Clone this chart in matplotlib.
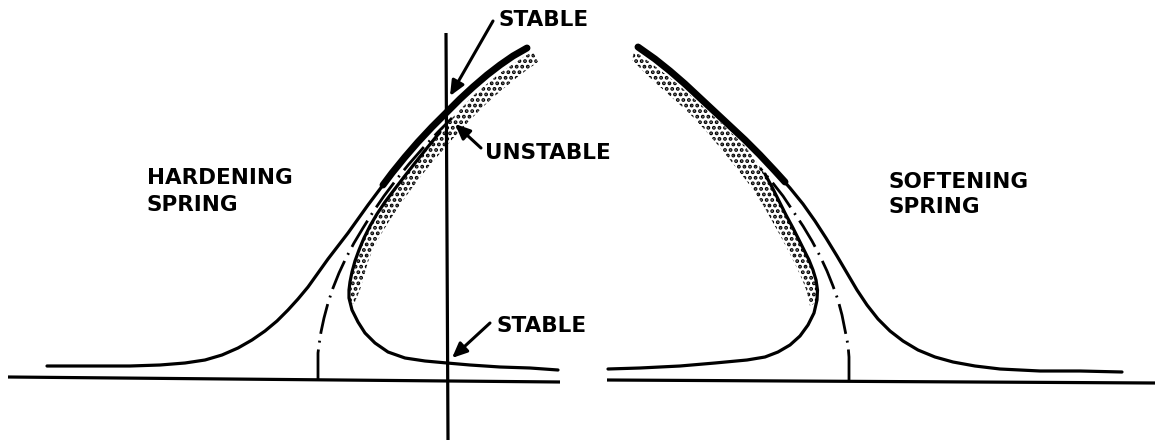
import matplotlib
matplotlib.use("Agg")
import matplotlib.pyplot as plt
from matplotlib.patches import Polygon
import numpy as np

# ---------------- data (pixel-like units) ----------------
# Left panel: hardening spring
base_left_x = [8, 560]
base_left_y = [377, 382]
vaxis_x = [446, 448]
vaxis_y = [33, 440]

hard_outer_x = [47, 90, 130, 160, 185, 205, 222, 238, 252, 265, 277, 288, 298, 308, 318, 328,
                338, 348, 358, 368, 380, 392, 405, 418, 432, 447, 460, 473, 487, 500, 513, 527]
hard_outer_y = [366, 366, 366, 365, 363, 360, 355, 348, 340, 331, 321, 310, 299, 287, 273, 259,
                246, 233, 219, 205, 189, 173, 157, 142, 127, 112, 99, 87, 75, 65, 56, 48]
hard_thick_x = [383, 392, 405, 418, 432, 447, 460, 473, 487, 500, 513, 527]
hard_thick_y = [185, 173, 157, 142, 127, 112, 99, 87, 75, 65, 56, 48]

hard_inner_x = [558, 530, 500, 470, 447, 425, 405, 388, 375, 365, 358, 352, 349, 349, 350, 352,
                355, 359, 364, 370, 377, 385, 394, 404, 415, 427, 440]
hard_inner_y = [370, 368, 367, 365, 363, 361, 358, 352, 343, 333, 322, 310, 298, 290, 282, 272,
                261, 250, 238, 226, 214, 202, 190, 177, 163, 148, 132]

hard_band_in_x = [350, 350, 352, 355, 359, 364, 370, 377, 385, 394, 404, 415, 427, 440, 452,
                  475, 500, 525, 533]
hard_band_in_y = [303, 285, 272, 261, 250, 238, 226, 214, 202, 190, 177, 163, 148, 132, 118,
                  94, 73, 56, 52]
hard_band_out_x = [354, 360, 364, 368, 373, 380, 388, 397, 407, 418, 430, 443, 456, 470, 486,
                   503, 520, 538]
hard_band_out_y = [304, 290, 276, 262, 249, 236, 223, 209, 195, 180, 165, 150, 135, 120, 104,
                   89, 75, 62]

hard_bb_x = [318, 318, 319, 321, 324, 328, 333, 339, 346, 354, 363, 373, 384, 396, 409, 423, 438, 452]
hard_bb_y = [380, 353, 345, 332, 318, 303, 288, 273, 258, 243, 228, 212, 196, 180, 164, 148, 132, 118]

# Right panel: softening spring
base_right_x = [607, 1155]
base_right_y = [380, 383]

soft_outer_x = [638, 655, 670, 685, 700, 715, 730, 745, 760, 775, 790, 803, 815, 826, 837, 847,
                857, 867, 878, 890, 903, 918, 935, 953, 975, 1000, 1040, 1080, 1122]
soft_outer_y = [47, 59, 71, 84, 98, 112, 126, 140, 155, 171, 188, 204, 221, 238, 256, 273,
                290, 305, 319, 331, 341, 350, 357, 362, 366, 369, 371, 371, 372]
soft_thick_x = [638, 655, 670, 685, 700, 715, 730, 745, 760, 775, 785]
soft_thick_y = [47, 59, 71, 84, 98, 112, 126, 140, 155, 171, 182]

soft_inner_x = [608, 640, 680, 715, 747, 765, 778, 790, 800, 808, 814, 817, 817.5, 816, 813,
                809, 804, 799, 793, 786, 779, 772, 765]
soft_inner_y = [369, 368, 366, 363, 360, 357, 352, 345, 336, 325, 313, 300, 290, 280, 270,
                260, 250, 240, 228, 215, 201, 187, 174]

soft_band_in_x = [817, 817.5, 816, 813, 809, 804, 799, 793, 786, 779, 772, 765, 745, 720, 700,
                  680, 660, 640, 634]
soft_band_in_y = [302, 290, 280, 270, 260, 250, 240, 228, 215, 201, 187, 174, 146, 122, 104,
                  86, 70, 55, 52]
soft_band_out_x = [810, 807, 802, 796, 789, 781, 772, 763, 752, 738, 722, 705, 688, 668, 648, 632]
soft_band_out_y = [306, 292, 279, 266, 252, 237, 221, 205, 188, 170, 150, 130, 112, 94, 76, 60]

soft_bb_x = [849, 849, 848, 845, 842, 838, 833, 827, 820, 812, 803, 793, 783, 772, 760]
soft_bb_y = [380, 357, 345, 330, 315, 300, 286, 271, 256, 241, 226, 211, 196, 182, 168]

# Labels
label_texts = ["STABLE", "UNSTABLE", "STABLE", "HARDENING", "SPRING", "SOFTENING", "SPRING"]
label_x = [499, 485, 496, 147, 147, 888, 888]
label_y = [20, 153, 326, 178, 205, 182, 207]

arrow_tail_x = [493, 481, 490]
arrow_tail_y = [21, 148, 323]
arrow_tip_x = [450, 455, 452]
arrow_tip_y = [96, 124, 358]

# ---------------- drawing ----------------
plt.rcParams['hatch.linewidth'] = 1.9
fig = plt.figure(figsize=(11.58, 4.48), dpi=100)
ax = fig.add_axes([0, 0, 1, 1])
ax.set_xlim(0, 1158)
ax.set_ylim(448, 0)
ax.axis('off')

K = 'black'
thin = 2.3
thick = 5.0

# axes lines
ax.plot(base_left_x, base_left_y, color=K, lw=2.3, solid_capstyle='butt')
ax.plot(base_right_x, base_right_y, color=K, lw=2.3, solid_capstyle='butt')
ax.plot(vaxis_x, vaxis_y, color=K, lw=2.3, solid_capstyle='butt')

# dotted (unstable) bands
for ix, iy, ox, oy in [(hard_band_in_x, hard_band_in_y, hard_band_out_x, hard_band_out_y),
                       (soft_band_in_x, soft_band_in_y, soft_band_out_x, soft_band_out_y)]:
    verts = np.column_stack([list(ix) + list(ox)[::-1], list(iy) + list(oy)[::-1]])
    p = Polygon(verts, closed=True, facecolor='none', edgecolor=K, lw=0, hatch='...')
    ax.add_patch(p)

# curves
for xs, ys in [(hard_outer_x, hard_outer_y), (hard_inner_x, hard_inner_y),
               (soft_outer_x, soft_outer_y), (soft_inner_x, soft_inner_y)]:
    ax.plot(xs, ys, color=K, lw=thin, solid_capstyle='round', solid_joinstyle='round')

for xs, ys in [(hard_thick_x, hard_thick_y), (soft_thick_x, soft_thick_y)]:
    ax.plot(xs, ys, color=K, lw=thick, solid_capstyle='round', solid_joinstyle='round')

# backbone (dash-dot)
for xs, ys in [(hard_bb_x, hard_bb_y), (soft_bb_x, soft_bb_y)]:
    ax.plot(xs, ys, color=K, lw=2.0, linestyle=(0, (11, 2.5, 0.7, 2.5)), dash_capstyle='butt')

# labels
for t, x, y in zip(label_texts, label_x, label_y):
    ax.text(x, y, t, ha='left', va='center', fontsize=15.5, fontweight='bold',
            family='DejaVu Sans', color=K)

# arrows
for tx, ty, hx, hy in zip(arrow_tail_x, arrow_tail_y, arrow_tip_x, arrow_tip_y):
    ax.annotate('', xy=(hx, hy), xytext=(tx, ty),
                arrowprops=dict(arrowstyle='-|>,head_length=0.9,head_width=0.4',
                                color=K, lw=2.2, shrinkA=0, shrinkB=0))

fig.savefig('out.png', dpi=100)
